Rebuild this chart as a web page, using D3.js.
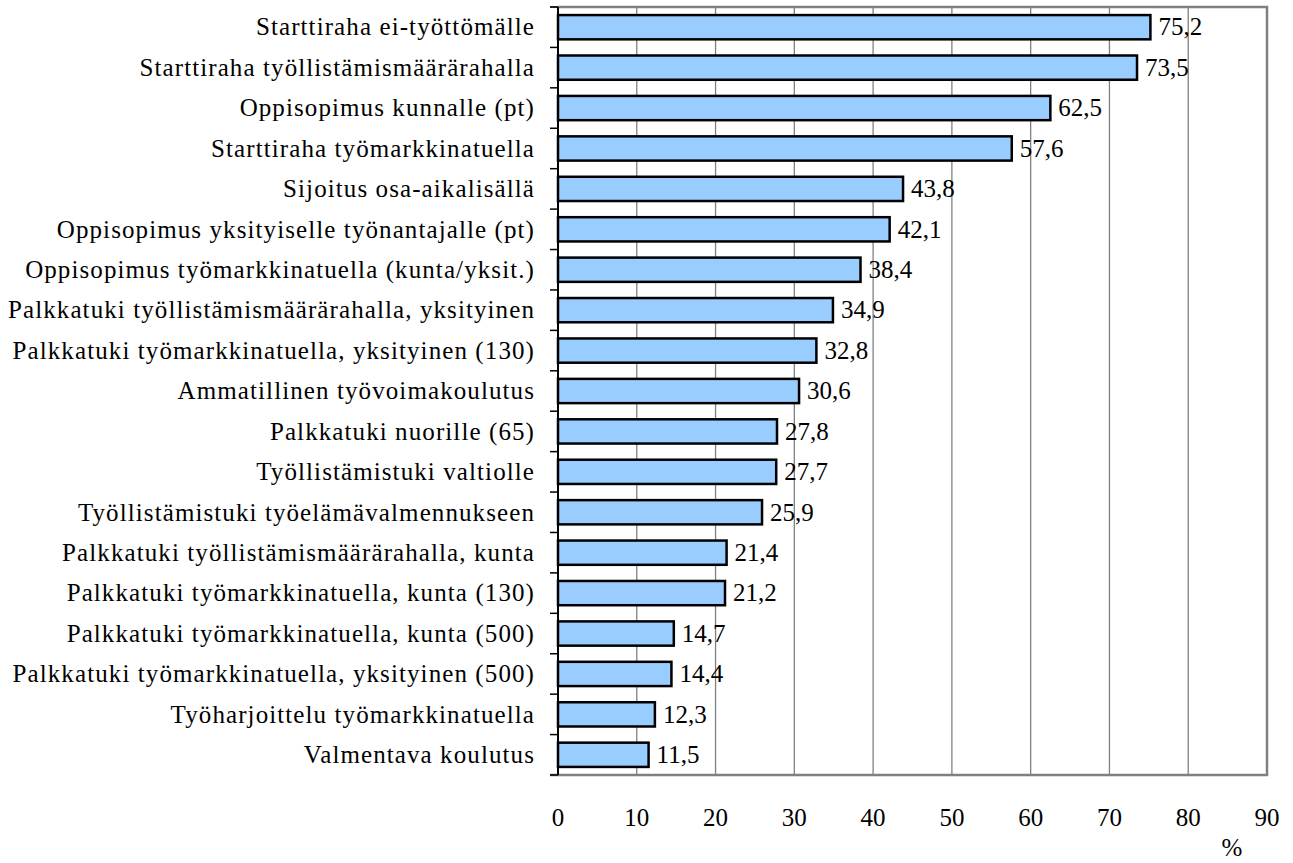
<!DOCTYPE html>
<html><head><meta charset="utf-8">
<script src="https://cdn.jsdelivr.net/npm/d3@7"></script>
<style>body{margin:0;background:#fff}svg{display:block}svg text{font-family:"Liberation Serif","Times New Roman",serif}</style>
</head><body>
<svg id="c" width="1293" height="863"></svg>
<script>
const categories = [
"Starttiraha ei-työttömälle",
"Starttiraha työllistämismäärärahalla",
"Oppisopimus kunnalle (pt)",
"Starttiraha työmarkkinatuella",
"Sijoitus osa-aikalisällä",
"Oppisopimus yksityiselle työnantajalle (pt)",
"Oppisopimus työmarkkinatuella (kunta/yksit.)",
"Palkkatuki työllistämismäärärahalla, yksityinen",
"Palkkatuki työmarkkinatuella, yksityinen (130)",
"Ammatillinen työvoimakoulutus",
"Palkkatuki nuorille (65)",
"Työllistämistuki valtiolle",
"Työllistämistuki työelämävalmennukseen",
"Palkkatuki työllistämismäärärahalla, kunta",
"Palkkatuki työmarkkinatuella, kunta (130)",
"Palkkatuki työmarkkinatuella, kunta (500)",
"Palkkatuki työmarkkinatuella, yksityinen (500)",
"Työharjoittelu työmarkkinatuella",
"Valmentava koulutus"];
const values = [75.2,73.5,62.5,57.6,43.8,42.1,38.4,34.9,32.8,30.6,27.8,27.7,25.9,21.4,21.2,14.7,14.4,12.3,11.5];
const xTicks = [0,10,20,30,40,50,60,70,80,90];
const unitLabel = "%";

const FF = '"Liberation Serif","Times New Roman",serif';
const svg = d3.select("#c");
const L=558, R=1267, T=7, B=775;
const x = d3.scaleLinear().domain([0,90]).range([L,R]);
const y = d3.scaleBand().domain(categories).range([T,B]).paddingInner(0.4).paddingOuter(0.2);

svg.append("g").selectAll("line").data(xTicks.slice(1,-1)).join("line")
  .attr("x1",d=>x(d)).attr("x2",d=>x(d)).attr("y1",T).attr("y2",B)
  .attr("stroke","#808080").attr("stroke-width",1.3);
svg.append("path").attr("d",`M${L},${T}H${R}V${B}H${L-8}`).attr("fill","none")
  .attr("stroke","#808080").attr("stroke-width",2.5);
svg.append("line").attr("x1",L-8).attr("x2",L).attr("y1",T).attr("y2",T).attr("stroke","#808080").attr("stroke-width",2);

svg.append("g").selectAll("rect").data(values).join("rect")
  .attr("x",x(0)).attr("y",(d,i)=>y(categories[i]))
  .attr("width",d=>x(d)-x(0)).attr("height",y.bandwidth())
  .attr("fill","#99CCFF").attr("stroke","#000").attr("stroke-width",2.5);

svg.append("line").attr("x1",L).attr("x2",L).attr("y1",T).attr("y2",B).attr("stroke","#000").attr("stroke-width",2);
const bounds = d3.range(categories.length+1).map(i=>T+i*(B-T)/categories.length);
svg.append("g").selectAll("line").data(bounds).join("line")
  .attr("x1",L-8).attr("x2",L).attr("y1",d=>d).attr("y2",d=>d)
  .attr("stroke","#000").attr("stroke-width",1.5);

const labels = svg.append("g").selectAll("text").data(categories).join("text")
  .style("font-family",FF)
  .attr("x",535).attr("y",d=>y(d)+y.bandwidth()/2).attr("dy","0.33em")
  .attr("text-anchor","end").attr("font-size",25).attr("fill","#000").text(d=>d);
let maxLen=0, maxChars=1;
labels.each(function(d){const l=this.getComputedTextLength(); if(l>maxLen){maxLen=l;maxChars=d.length;}});
const ls = Math.max(0,(527-maxLen)/maxChars);
labels.attr("letter-spacing",ls);

svg.append("g").selectAll("text").data(values).join("text")
  .style("font-family",FF)
  .attr("x",d=>x(d)+8).attr("y",(d,i)=>y(categories[i])+y.bandwidth()/2).attr("dy","0.33em")
  .attr("font-size",25).attr("fill","#000").text(d=>d3.format(".1f")(d).replace(".",","));

svg.append("g").selectAll("text").data(xTicks).join("text")
  .style("font-family",FF)
  .attr("x",d=>x(d)).attr("y",817).attr("dy","0.35em").attr("text-anchor","middle")
  .attr("font-size",25).attr("fill","#000").text(d=>d);
svg.append("text").style("font-family",FF).attr("x",1232).attr("y",847).attr("dy","0.35em").attr("text-anchor","middle")
  .attr("font-size",25).attr("fill","#000").text(unitLabel);
</script>
</body></html>
